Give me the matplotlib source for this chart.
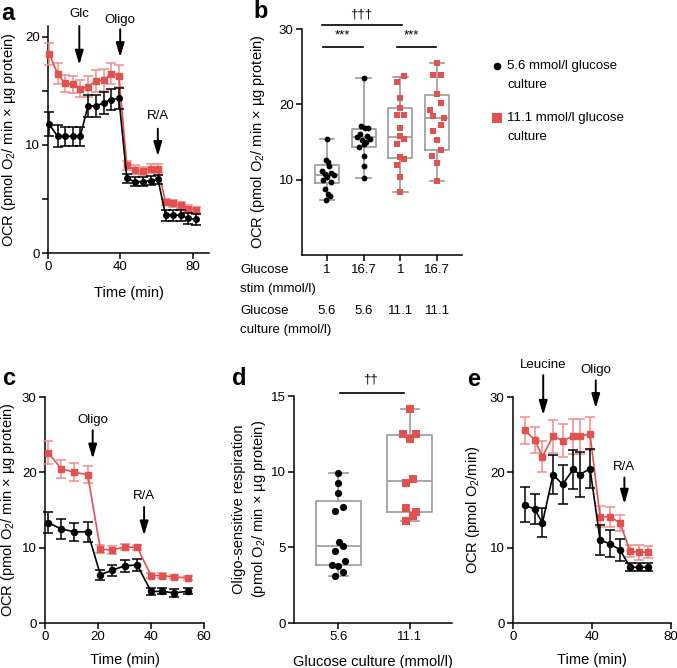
import matplotlib
matplotlib.use('Agg')
import matplotlib.pyplot as plt
from matplotlib.lines import Line2D

plt.rcParams['font.family'] = ['Liberation Sans', 'DejaVu Sans']
plt.rcParams['mathtext.fontset'] = 'custom'
plt.rcParams['mathtext.rm'] = 'Liberation Sans'

W, H = 677, 668
RED = '#e2514f'
RED_LIGHT = '#ef8d8b'
GREY = '#9a9a9a'
FS_LAB = 10.5
FS_TICK = 9.5
FS_TXT = 9.5

# ---- panel a ----
a_time = [0.7, 5.3, 9.5, 13.8, 17.8, 22.1, 26.5, 30.9, 35.1, 39.2,
          43.6, 47.9, 52.3, 56.7, 60.8, 65.0, 69.0, 73.3, 77.5, 82.0]
a_low = [11.9, 10.8, 10.8, 10.8, 10.8, 13.6, 13.6, 13.9, 14.2, 14.3,
         6.9, 6.6, 6.6, 6.7, 6.8, 3.5, 3.5, 3.5, 3.2, 3.1]
a_low_err = [1.1, 1.0, 0.9, 0.9, 0.9, 1.0, 1.0, 1.0, 1.0, 1.0,
             0.4, 0.4, 0.4, 0.4, 0.4, 0.5, 0.5, 0.5, 0.5, 0.5]
a_high = [18.4, 16.6, 15.7, 15.6, 15.2, 15.4, 15.9, 16.0, 16.6, 16.4,
          8.1, 7.7, 7.6, 7.8, 7.8, 4.7, 4.6, 4.4, 4.1, 4.0]
a_high_err = [1.0, 1.0, 0.8, 0.8, 0.8, 1.0, 1.0, 1.0, 1.0, 1.0,
              0.4, 0.4, 0.4, 0.4, 0.4, 0.3, 0.3, 0.3, 0.3, 0.3]

# ---- panel b ----
b_stim = ['1', '16.7', '1', '16.7']
b_culture = ['5.6', '5.6', '11.1', '11.1']
b_g1 = [15.4, 12.65, 12.4, 11.8, 11.1, 10.9, 10.7, 10.6, 10.35, 10.0, 9.7, 8.8, 8.1, 7.8, 7.25]
b_g2 = [23.5, 17.1, 16.9, 16.8, 16.1, 15.8, 15.6, 15.45, 15.3, 15.0, 14.7, 14.3, 13.1, 11.8, 10.2]
b_g3 = [23.7, 22.9, 20.9, 19.5, 18.6, 18.6, 16.8, 15.8, 15.45, 14.8, 13.0, 12.8, 11.9, 10.3, 8.35]
b_g4 = [25.5, 23.85, 23.85, 21.4, 20.2, 19.3, 18.5, 18.2, 17.2, 16.5, 15.2, 13.9, 13.2, 12.2, 9.8]
b_jit1 = [0, -0.02, 0.04, 0.06, -0.14, 0.12, -0.05, 0.18, 0.0, -0.1, 0.1, -0.04, 0.02, 0.07, -0.03]
b_jit2 = [0, -0.08, 0.12, 0.04, -0.1, 0.1, -0.17, 0.17, -0.05, 0.07, 0.0, -0.12, 0.0, 0.0, 0.0]
b_jit3 = [0.1, -0.1, 0, 0, -0.1, 0.1, 0, 0, 0.1, -0.1, 0, 0.1, -0.1, 0, 0]
b_jit4 = [0, -0.1, 0.1, 0, 0.1, -0.2, -0.12, 0.2, 0.1, -0.1, 0, 0.1, -0.13, 0, 0]
# box stats: whislo, q1, med, q3, whishi
b_box = [[7.25, 9.5, 10.6, 11.9, 15.4],
         [10.2, 14.4, 15.6, 16.7, 23.5],
         [8.35, 12.9, 15.7, 19.5, 23.6],
         [9.8, 14.0, 18.2, 21.3, 25.5]]

# ---- panel c ----
c_time = [1.3, 6.0, 11.1, 16.1, 20.9, 25.2, 30.2, 34.8, 40.0, 44.2, 48.8, 53.8]
c_low = [13.3, 12.5, 12.1, 12.1, 6.4, 7.0, 7.6, 7.7, 4.2, 4.2, 4.0, 4.2]
c_low_err = [1.4, 1.3, 1.2, 1.3, 0.7, 0.7, 0.8, 0.8, 0.5, 0.4, 0.5, 0.4]
c_high = [22.6, 20.5, 20.0, 19.7, 9.8, 9.7, 10.1, 10.05, 6.3, 6.3, 6.1, 6.0]
c_high_err = [1.5, 1.2, 1.2, 1.1, 0.5, 0.5, 0.4, 0.3, 0.3, 0.3, 0.3, 0.3]

# ---- panel d ----
d_groups = ['5.6', '11.1']
d_g1 = [9.94, 9.24, 8.62, 7.65, 7.43, 5.37, 5.1, 4.75, 4.07, 3.83, 3.78, 3.36, 3.08]
d_g2 = [14.14, 12.51, 12.47, 12.16, 9.54, 9.28, 7.57, 7.35, 7.04, 6.71]
d_jit1 = [0, 0, 0, 0.06, -0.04, 0.01, 0.06, -0.04, 0.1, -0.09, 0, 0.06, -0.04]
d_jit2 = [0, 0.09, -0.09, 0, 0.05, -0.05, -0.05, 0.09, 0.05, -0.05]
d_box = [[3.08, 3.83, 5.06, 8.09, 9.94],
         [6.71, 7.32, 9.41, 12.4, 14.14]]

# ---- panel e ----
e_time = [5.9, 11.0, 14.9, 20.3, 25.1, 30.5, 33.9, 39.0, 44.1, 49.2, 54.2, 59.3, 63.9, 68.6]
e_low = [15.7, 15.1, 13.3, 19.7, 18.4, 20.4, 19.7, 20.5, 11.0, 10.5, 9.7, 7.4, 7.4, 7.4]
e_low_err = [2.3, 2.0, 1.9, 2.6, 2.6, 2.6, 3.0, 2.6, 2.0, 1.8, 1.5, 0.5, 0.5, 0.5]
e_high = [25.6, 24.3, 22.1, 24.8, 24.2, 24.8, 24.8, 25.1, 14.1, 14.1, 13.3, 9.5, 9.4, 9.4]
e_high_err = [1.8, 1.7, 2.0, 2.2, 2.2, 2.3, 2.3, 2.2, 1.4, 1.3, 1.1, 0.8, 1.0, 0.8]

OCR_LABEL = 'OCR (pmol O$_2$/ min \u00d7 \u00b5g protein)'


def px_axes(fig, left, right, top, bottom):
    return fig.add_axes([left / W, 1 - bottom / H, (right - left) / W, (bottom - top) / H])


def style(ax):
    ax.spines['top'].set_visible(False)
    ax.spines['right'].set_visible(False)
    for s in ['left', 'bottom']:
        ax.spines[s].set_linewidth(1.1)
    ax.tick_params(direction='out', length=4, width=1.1, labelsize=FS_TICK, pad=2)


def timecourse(ax, t, lo, lo_e, hi, hi_e, ms):
    ax.errorbar(t, hi, yerr=hi_e, color=RED, ecolor=RED_LIGHT, marker='s', ms=ms,
                lw=1.2, elinewidth=1.1, capsize=3.8, capthick=1.1, zorder=3, clip_on=False)
    ax.errorbar(t, lo, yerr=lo_e, color='k', ecolor='k', marker='o', ms=ms,
                lw=1.2, elinewidth=1.1, capsize=3.8, capthick=1.1, zorder=4, clip_on=False)


def inject(ax, x, y0, y1, label, ly):
    ax.annotate('', xy=(x, y1), xytext=(x, y0), annotation_clip=False,
                arrowprops=dict(arrowstyle='-|>,head_length=0.85,head_width=0.25',
                                color='k', lw=1.4, mutation_scale=10, shrinkA=0, shrinkB=0))
    ax.text(x, ly, label, ha='center', va='center', fontsize=FS_TXT, clip_on=False)


def boxes(ax, stats, width, capw):
    bx = [dict(whislo=s[0], q1=s[1], med=s[2], q3=s[3], whishi=s[4], fliers=[]) for s in stats]
    lp = dict(color=GREY, lw=1.2)
    ax.bxp(bx, positions=range(1, len(bx) + 1), widths=width, capwidths=capw,
           showfliers=False, boxprops=lp, whiskerprops=lp, capprops=lp,
           medianprops=lp, manage_ticks=False, zorder=1)


def points(ax, pos, vals, jit, marker, color, ms):
    ax.plot([pos + j for j in jit], vals, ls='none', marker=marker, color=color,
            ms=ms, mew=0, zorder=3, clip_on=False)


def sig(ax, x0, x1, y, label, tx, ty):
    ax.plot([x0, x1], [y, y], color='k', lw=1.2, clip_on=False)
    ax.text(tx, ty, label, ha='center', va='center', fontsize=FS_TXT, clip_on=False)


fig = plt.figure(figsize=(W / 100, H / 100), dpi=100)

# ---------------- a ----------------
ax_a = px_axes(fig, 48, 209, 26, 253)
style(ax_a)
timecourse(ax_a, a_time, a_low, a_low_err, a_high, a_high_err, 4)
ax_a.set_xlim(0, 89)
ax_a.set_ylim(0, 21)
ax_a.set_xticks([0, 40, 80])
ax_a.set_yticks([0, 10, 20])
ax_a.set_yticks([5, 15], minor=True)
ax_a.tick_params(which='minor', length=4, width=1.1)
ax_a.set_xlabel('Time (min)', fontsize=FS_LAB, va='center')
ax_a.xaxis.set_label_coords(0.5, -40 / 227)
ax_a.set_ylabel(OCR_LABEL, fontsize=FS_LAB, va='center')
ax_a.yaxis.set_label_coords(-39 / 161, 0.5)
inject(ax_a, 17.3, 21.0, 17.4, 'Glc', 22.1)
inject(ax_a, 39.9, 20.7, 18.1, 'Oligo', 21.6)
inject(ax_a, 60.7, 11.5, 8.95, 'R/A', 12.65)

# ---------------- b ----------------
ax_b = px_axes(fig, 302, 462, 29, 255)
style(ax_b)
boxes(ax_b, b_box, 0.65, 0.4)
points(ax_b, 1, b_g1, b_jit1, 'o', 'k', 4.2)
points(ax_b, 2, b_g2, b_jit2, 'o', 'k', 4.2)
points(ax_b, 3, b_g3, b_jit3, 's', RED, 4.6)
points(ax_b, 4, b_g4, b_jit4, 's', RED, 4.6)
ax_b.set_xlim(0.32, 4.68)
ax_b.set_ylim(0, 30)
ax_b.set_yticks([10, 20, 30])
ax_b.set_xticks([1, 2, 3, 4])
ax_b.set_xticklabels([])
ax_b.set_ylabel(OCR_LABEL, fontsize=FS_LAB, va='center')
ax_b.yaxis.set_label_coords(-44 / 160, 0.5)
sig(ax_b, 0.87, 3.05, 30.5, '\u2020\u2020\u2020', 1.92, 31.9)
sig(ax_b, 0.9, 1.97, 27.6, '***', 1.42, 29.2)
sig(ax_b, 2.9, 3.97, 27.6, '***', 3.3, 29.2)
for i, (s, c) in enumerate(zip(b_stim, b_culture)):
    ax_b.annotate(s, xy=(i + 1, 0), xycoords=('data', 'axes fraction'),
                  xytext=(0, -15), textcoords='offset pixels',
                  ha='center', va='center', fontsize=FS_TXT)
    ax_b.annotate(c, xy=(i + 1, 0), xycoords=('data', 'axes fraction'),
                  xytext=(0, -56), textcoords='offset pixels',
                  ha='center', va='center', fontsize=FS_TXT)
for txt, y in [('Glucose', 270), ('stim (mmol/l)', 289), ('Glucose', 311), ('culture (mmol/l)', 330)]:
    fig.text(240 / W, 1 - y / H, txt, ha='left', va='center', fontsize=FS_TXT)

# legend
fig.add_artist(Line2D([497 / W], [1 - 66 / H], marker='o', color='k', ms=5.5, mew=0,
                      transform=fig.transFigure))
fig.add_artist(Line2D([497 / W], [1 - 118 / H], marker='s', color=RED, ms=7, mew=0,
                      transform=fig.transFigure))
for txt, y in [('5.6 mmol/l glucose', 66), ('culture', 85),
               ('11.1 mmol/l glucose', 118), ('culture', 137)]:
    fig.text(507 / W, 1 - y / H, txt, ha='left', va='center', fontsize=FS_TXT)

# ---------------- c ----------------
ax_c = px_axes(fig, 45, 204, 397, 623)
style(ax_c)
timecourse(ax_c, c_time, c_low, c_low_err, c_high, c_high_err, 4.4)
ax_c.set_xlim(0, 60)
ax_c.set_ylim(0, 30)
ax_c.set_xticks([0, 20, 40, 60])
ax_c.set_yticks([0, 10, 20, 30])
ax_c.set_xlabel('Time (min)', fontsize=FS_LAB, va='center')
ax_c.xaxis.set_label_coords(0.5, -37 / 226)
ax_c.set_ylabel(OCR_LABEL, fontsize=FS_LAB, va='center')
ax_c.yaxis.set_label_coords(-37 / 159, 0.5)
inject(ax_c, 18, 25.6, 21.8, 'Oligo', 27.0)
inject(ax_c, 37.4, 15.4, 11.6, 'R/A', 16.9)

# ---------------- d ----------------
ax_d = px_axes(fig, 294, 452, 396, 623)
style(ax_d)
boxes(ax_d, d_box, 0.63, 0.26)
points(ax_d, 1, d_g1, d_jit1, 'o', 'k', 5.2)
points(ax_d, 2, d_g2, d_jit2, 's', RED, 5.2)
ax_d.set_xlim(0.38, 2.59)
ax_d.set_ylim(0, 15)
ax_d.set_yticks([0, 5, 10, 15])
ax_d.set_xticks([1, 2])
ax_d.set_xticklabels(d_groups)
ax_d.set_xlabel('Glucose culture (mmol/l)', fontsize=FS_LAB, va='center')
ax_d.xaxis.set_label_coords(0.5, -39 / 227)
ax_d.set_ylabel('Oligo-sensitive respiration\n(pmol O$_2$/ min \u00d7 \u00b5g protein)',
                fontsize=FS_LAB, va='center', linespacing=1.3)
ax_d.yaxis.set_label_coords(-44 / 158, 0.5)
sig(ax_d, 1.02, 1.92, 15.17, '\u2020\u2020', 1.45, 16.1)

# ---------------- e ----------------
ax_e = px_axes(fig, 513, 671, 397, 623)
style(ax_e)
timecourse(ax_e, e_time, e_low, e_low_err, e_high, e_high_err, 4.4)
ax_e.set_xlim(0, 80)
ax_e.set_ylim(0, 30)
ax_e.set_xticks([0, 40, 80])
ax_e.set_yticks([0, 10, 20, 30])
ax_e.set_xlabel('Time (min)', fontsize=FS_LAB, va='center')
ax_e.xaxis.set_label_coords(0.5, -37 / 226)
ax_e.set_ylabel('OCR (pmol O$_2$/min)', fontsize=FS_LAB, va='center')
ax_e.yaxis.set_label_coords(-40 / 158, 0.5)
inject(ax_e, 15.3, 32.9, 27.6, 'Leucine', 34.3)
inject(ax_e, 41.9, 32.2, 28.5, 'Oligo', 33.6)
inject(ax_e, 56.4, 19.3, 15.8, 'R/A', 20.7)

# panel letters
for letter, x, y in [('a', 1, 20), ('b', 253, 18), ('c', 2, 385), ('d', 232, 385), ('e', 467, 386)]:
    fig.text(x / W, 1 - y / H, letter, fontsize=17, fontweight='bold',
             ha='left', va='baseline')

fig.savefig('out.png', dpi=100)
